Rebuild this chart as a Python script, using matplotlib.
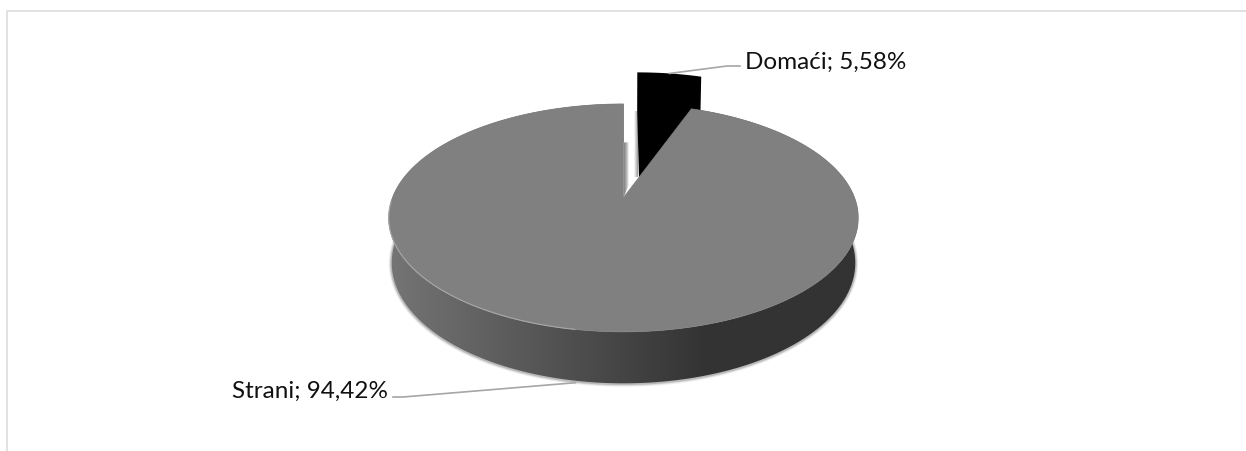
import numpy as np
import matplotlib.pyplot as plt
from matplotlib.patches import Polygon
from matplotlib.colors import LinearSegmentedColormap

# Data
categories = ["Domaći", "Strani"]
shares = [5.58, 94.42]
labels = ["Domaći; 5,58%", "Strani; 94,42%"]

# Perspective of the pie, in pixels of the figure
CX, CY = 623.5, 198.5
A, H, K = 231, 110.3, 0.179
DEPTH, M = 44.6, 0.0125
EXPLODE = 0.43


def project(theta, r=1.0, z=0.0, shift=0.0, mid=0.0):
    # theta is clockwise from 12 o'clock, in radians
    c = r * np.sin(theta) + shift * np.sin(mid)
    s = r * np.cos(theta) + shift * np.cos(mid)
    w = 1 + K * s + M * z
    return CX + A * c / w, CY + (-H * s + DEPTH * z) / w


def rim(t0, t1, z=0.0, shift=0.0, mid=0.0):
    t = np.linspace(t0, t1, 200)
    x, y = project(t, 1.0, z, shift, mid)
    return np.column_stack([x, y])


fig = plt.figure(figsize=(12.46, 4.52), dpi=100)
ax = fig.add_axes([0, 0, 1, 1])

# thin frame of the chart area, cut by the picture on right and bottom
ax.plot([7, 7, 1246], [452, 11.5, 11.5], color="#dcdcdc", lw=1.2, zorder=1)

angle_dom = 2 * np.pi * shares[0] / sum(shares)
mid_dom = angle_dom / 2
mid_str = angle_dom + (2 * np.pi - angle_dom) / 2

# exploded slice: walls and top are all black, so one outline does
top_dom = rim(0, angle_dom, 0, EXPLODE, mid_dom)
bot_dom = rim(0, angle_dom, 1, EXPLODE, mid_dom)
apex_bot = np.array(project(0, 0, 1, EXPLODE, mid_dom))
ax.add_patch(Polygon(np.vstack([top_dom, bot_dom[-1:], [apex_bot], bot_dom[:1]]),
                     color="black", lw=0, zorder=3))

# soft shadows in the gap between the slices
fade_r = LinearSegmentedColormap.from_list("fade_r", ["#808080", "#ffffff"])
fade_l = LinearSegmentedColormap.from_list("fade_l", ["#ffffff", "#9a9a9a"])
gx = np.linspace(0, 1, 32).reshape(1, -1)

x0, y0 = project(0, 1, 1)
x1, y1 = project(0, 0, 0)
im = ax.imshow(gx, cmap=fade_r, extent=[x0, x0 + 6, y1, y0], aspect="auto", zorder=2)
im.set_clip_path(Polygon([[x0, y0], [x0 + 5, y0], [x0 + 5, y1 - 12], [x0, y1]],
                         transform=ax.transData))

x2, y2 = top_dom[0]
y3 = apex_bot[1] - 19
ax.imshow(gx, cmap=fade_l, extent=[x2 - 3.5, x2, y3, y2 + 39], aspect="auto", zorder=2)

# shadow under the pie wall
outline = rim(np.radians(60), np.radians(300), 1)
for width, alpha in [(6, 0.12), (4, 0.2), (2.5, 0.35)]:
    ax.plot(outline[:, 0], outline[:, 1] + 0.5, color="#808080", lw=width * 0.72,
            alpha=alpha, solid_capstyle="round", zorder=4)

# big slice wall with a horizontal gradient
wall_cmap = LinearSegmentedColormap.from_list(
    "wall", [(0, "#757575"), (0.38, "#505050"), (0.68, "#333333"), (1, "#333333")])
top_str = rim(angle_dom, 2 * np.pi, 0)
bot_str = rim(angle_dom, 2 * np.pi, 1)
wall = Polygon(np.vstack([top_str, bot_str[::-1]]), transform=ax.transData)
im = ax.imshow(np.linspace(0, 1, 256).reshape(1, -1), cmap=wall_cmap,
               extent=[387, 858, 400, 100], aspect="auto", zorder=5)
im.set_clip_path(wall)

# big slice top
ax.add_patch(Polygon(np.vstack([top_str, [[CX, CY]]]), facecolor="#808080",
                     edgecolor="#808080", lw=0.5, zorder=6))
hl = rim(np.radians(190), np.radians(268), 0)
ax.plot(hl[:, 0], hl[:, 1], color="#a8a8a8", lw=0.8, zorder=7)

# leader lines and labels
xd, yd = project(mid_dom, 1, 0, EXPLODE, mid_dom)
ax.plot([xd, 727, 740], [yd, 67, 67], color="#a6a6a6", lw=1.2, zorder=8)
xs, ys = project(mid_str, 1, 1)
ax.plot([393, 403, xs], [398, 398, ys + 2], color="#a6a6a6", lw=1.2, zorder=8)

ax.text(745, 69, labels[0], fontsize=17.5, family="Lato", color="#111111",
        ha="left", va="baseline", zorder=9)
ax.text(232, 398, labels[1], fontsize=17.5, family="Lato", color="#111111",
        ha="left", va="baseline", zorder=9)

ax.set_xlim(0, 1246)
ax.set_ylim(452, 0)
ax.axis("off")

fig.savefig("out.png", dpi=100)
